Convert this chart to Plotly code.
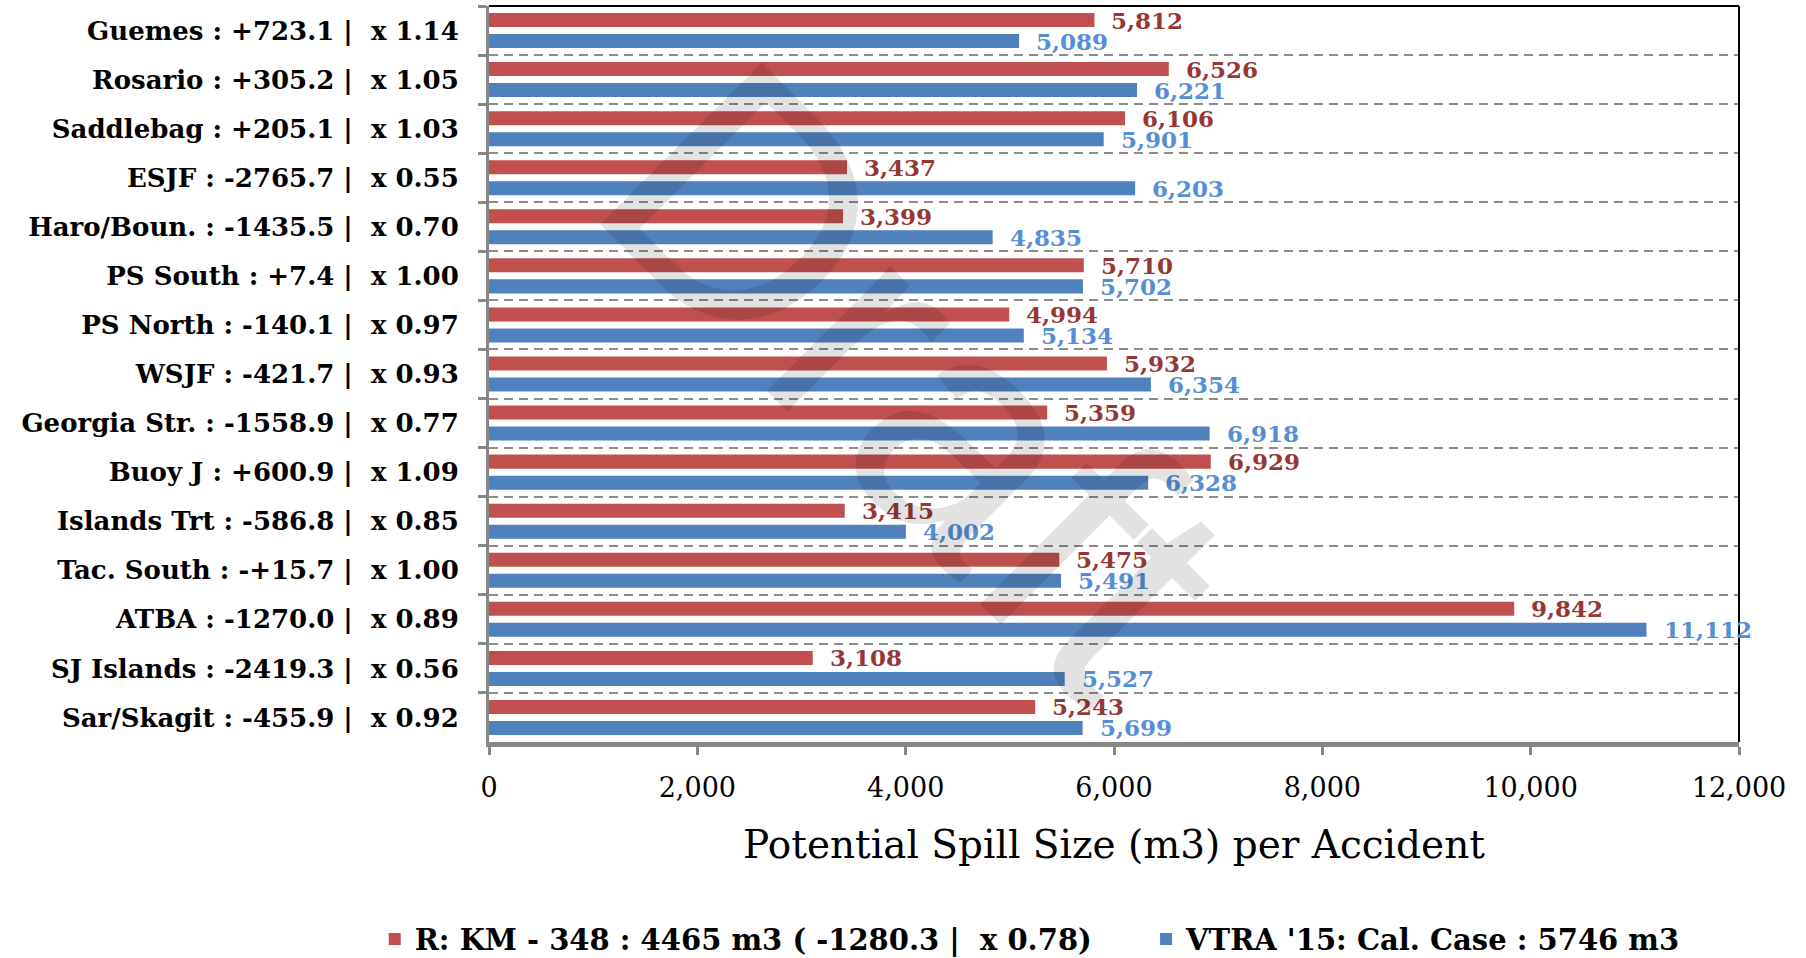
import plotly.graph_objects as go

categories = [
    "Guemes : +723.1 |  x 1.14",
    "Rosario : +305.2 |  x 1.05",
    "Saddlebag : +205.1 |  x 1.03",
    "ESJF : -2765.7 |  x 0.55",
    "Haro/Boun. : -1435.5 |  x 0.70",
    "PS South : +7.4 |  x 1.00",
    "PS North : -140.1 |  x 0.97",
    "WSJF : -421.7 |  x 0.93",
    "Georgia Str. : -1558.9 |  x 0.77",
    "Buoy J : +600.9 |  x 1.09",
    "Islands Trt : -586.8 |  x 0.85",
    "Tac. South : -+15.7 |  x 1.00",
    "ATBA : -1270.0 |  x 0.89",
    "SJ Islands : -2419.3 |  x 0.56",
    "Sar/Skagit : -455.9 |  x 0.92",
]
red_values = [5812, 6526, 6106, 3437, 3399, 5710, 4994, 5932, 5359, 6929, 3415, 5475, 9842, 3108, 5243]
blue_values = [5089, 6221, 5901, 6203, 4835, 5702, 5134, 6354, 6918, 6328, 4002, 5491, 11112, 5527, 5699]
red_name = "R: KM - 348 : 4465 m3 ( -1280.3 |  x 0.78)"
blue_name = "VTRA '15: Cal. Case : 5746 m3"
x_ticks = [0, 2000, 4000, 6000, 8000, 10000, 12000]
watermark = "Draft"

RED = "#C0504D"
BLUE = "#4F81BD"
RED_LBL = "#953735"
BLUE_LBL = "#558ED5"
SERIF = "DejaVu Serif"
BARGAP = 0.143

fig = go.Figure()
fig.add_trace(go.Bar(y=categories, x=red_values, orientation="h", name=red_name,
                     marker=dict(color=RED, line=dict(width=0)), legend="legend"))
fig.add_trace(go.Bar(y=categories, x=blue_values, orientation="h", name=blue_name,
                     marker=dict(color=BLUE, line=dict(width=0)), legend="legend2"))

off = (1 - BARGAP) / 4
annotations = []
for i, (r, b) in enumerate(zip(red_values, blue_values)):
    annotations.append(dict(x=r, y=i - off, xref="x", yref="y", text=f"{r:,}", showarrow=False,
                            xanchor="left", yanchor="middle", xshift=15,
                            font=dict(family=SERIF, size=23, color=RED_LBL, weight="bold")))
    annotations.append(dict(x=b, y=i + off, xref="x", yref="y", text=f"{b:,}", showarrow=False,
                            xanchor="left", yanchor="middle", xshift=15,
                            font=dict(family=SERIF, size=23, color=BLUE_LBL, weight="bold")))

annotations.append(dict(x=0.343, y=0.494, xref="paper", yref="paper", text=watermark, showarrow=False,
                        textangle=45, xanchor="center", yanchor="middle",
                        font=dict(family="Liberation Sans", size=332, color="rgba(0,0,0,0.115)")))

legend_font = dict(family=SERIF, size=29, color="black", weight="bold")
fig.update_layout(
    width=1806, height=958,
    paper_bgcolor="white", plot_bgcolor="white",
    margin=dict(l=489, r=67, t=6, b=216, autoexpand=False),
    barmode="group", bargap=BARGAP, bargroupgap=0.333,
    showlegend=True,
    legend=dict(orientation="h", xref="container", yref="container", x=0.2075, y=0.0198,
                xanchor="left", yanchor="middle", bgcolor="rgba(0,0,0,0)", font=legend_font),
    legend2=dict(orientation="h", xref="container", yref="container", x=0.6346, y=0.0198,
                 xanchor="left", yanchor="middle", bgcolor="rgba(0,0,0,0)", font=legend_font),
    annotations=annotations,
    shapes=[
        dict(type="line", xref="paper", yref="paper", x0=0, x1=1, y0=1, y1=1,
             line=dict(color="black", width=2)),
        dict(type="line", xref="paper", yref="paper", x0=1, x1=1, y0=0, y1=1,
             line=dict(color="black", width=2)),
    ],
)
fig.update_yaxes(
    type="category", categoryorder="array", categoryarray=categories,
    range=[14.5, -0.5], autorange=False,
    showline=True, linecolor="#878787", linewidth=3,
    ticks="outside", tickson="boundaries", ticklen=8, tickwidth=3, tickcolor="#878787",
    showgrid=True, gridcolor="#8c8c8c", gridwidth=2, griddash="9px,6px",
    ticklabelstandoff=22,
    tickfont=dict(family=SERIF, size=26, color="black", weight="bold"),
)
fig.update_xaxes(
    range=[0, 12000], tickvals=x_ticks, tickformat=",",
    showline=True, linecolor="#878787", linewidth=5,
    ticks="outside", ticklen=8, tickwidth=3, tickcolor="#878787",
    showgrid=False, zeroline=False,
    ticklabelstandoff=10,
    tickfont=dict(family=SERIF, size=27, color="black"),
    title=dict(text="Potential Spill Size (m3) per Accident", standoff=30,
               font=dict(family=SERIF, size=39, color="black")),
)

fig.write_html("out.html", config={"displayModeBar": False},
               post_script="document.body.style.margin='0';")
